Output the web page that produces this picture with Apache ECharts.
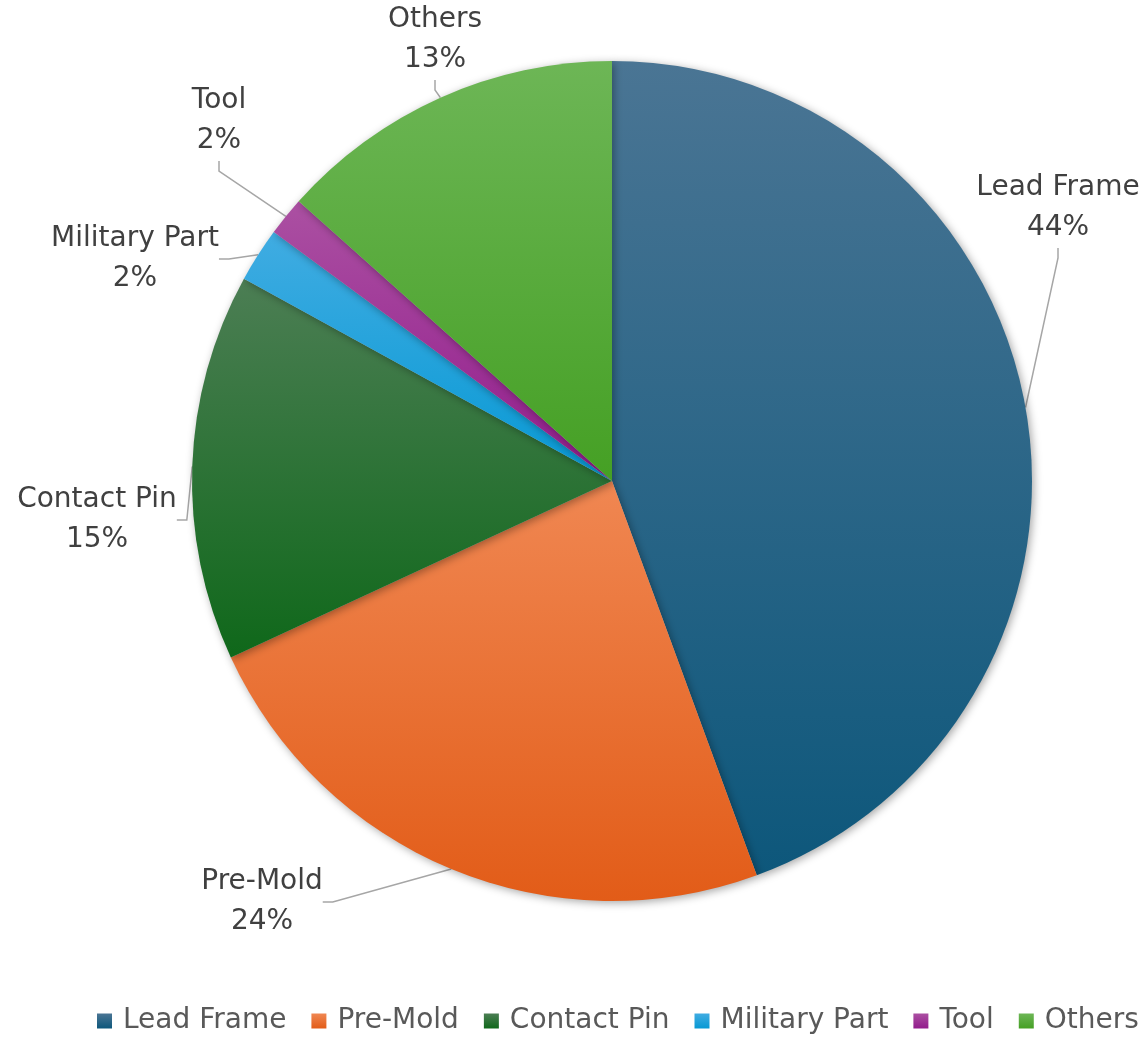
<!DOCTYPE html>
<html>
<head>
<meta charset="utf-8">
<script src="https://cdn.jsdelivr.net/npm/echarts@6/dist/echarts.min.js"></script>
<style>
html,body{margin:0;padding:0;background:#fff;}
#chart{width:1147px;height:1037px;}
</style>
</head>
<body>
<div id="chart"></div>
<script>
var categories = ['Lead Frame', 'Pre-Mold', 'Contact Pin', 'Military Part', 'Tool', 'Others'];
var values = [44.4, 23.7, 14.9, 2.1, 1.5, 13.4];
var topColors = ['#4a7594', '#f08752', '#4c7e54', '#40ace2', '#ab50a2', '#6db656'];
var bottomColors = ['#0d577b', '#e25c18', '#0f681a', '#0799d4', '#921c8c', '#45a024'];
var labelPos = [[1058, 208], [262, 902], [97, 520], [135, 259], [219, 121], [435, 40]];

var FONT = '"DejaVu Sans", "Noto Sans", sans-serif';
var chart = echarts.init(document.getElementById('chart'));

var data = categories.map(function (name, i) {
  return {
    name: name,
    value: values[i],
    itemStyle: {
      color: new echarts.graphic.LinearGradient(0, 0, 0, 1, [
        { offset: 0, color: topColors[i] },
        { offset: 1, color: bottomColors[i] }
      ])
    }
  };
});

chart.setOption({
  backgroundColor: '#ffffff',
  animation: false,
  legend: {
    top: 1002,
    left: 92,
    itemWidth: 15,
    itemHeight: 15,
    itemGap: 25,
    icon: 'rect',
    textStyle: { fontFamily: FONT, fontSize: 28, color: '#595959', padding: [0, 0, 0, 6] },
    data: categories
  },
  series: [{
    type: 'pie',
    center: [612, 481],
    radius: 420,
    startAngle: 90,
    clockwise: true,
    percentPrecision: 0,
    data: data,
    itemStyle: {
      shadowBlur: 8,
      shadowColor: 'rgba(0,0,0,0.35)',
      shadowOffsetX: 2,
      shadowOffsetY: 2
    },
    label: {
      show: true,
      position: 'outside',
      formatter: '{b}\n{d}%',
      fontFamily: FONT,
      fontSize: 28,
      lineHeight: 40,
      color: '#404040',
      align: 'center',
      overflow: 'none'
    },
    labelLine: {
      show: true,
      length: 20,
      length2: 10,
      lineStyle: { color: '#a6a6a6', width: 1.5 }
    },
    labelLayout: function (params) {
      var p = labelPos[params.dataIndex];
      return { x: p[0], y: p[1], align: 'center', verticalAlign: 'middle' };
    }
  }]
});
</script>
</body>
</html>
